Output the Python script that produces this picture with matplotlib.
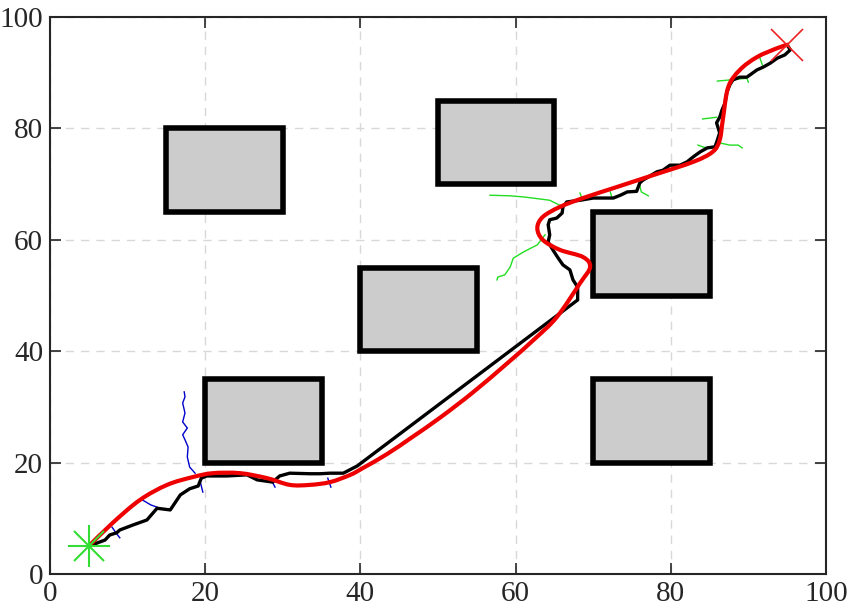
import matplotlib
matplotlib.use("Agg")
import matplotlib.pyplot as plt
import numpy as np
from matplotlib.patches import Rectangle, PathPatch
from matplotlib.path import Path

plt.rcParams['font.family'] = ['Liberation Serif', 'DejaVu Serif']

# Obstacles: (x, y, width, height)
obstacles = [
    (15, 65, 15, 15),
    (20, 20, 15, 15),
    (40, 40, 15, 15),
    (50, 70, 15, 15),
    (70, 50, 15, 15),
    (70, 20, 15, 15),
]

start = (5, 5)
goal = (95, 95)

# Smoothed path (red)
smooth_x = [5.0, 8.1, 11.6, 15.1, 18.4, 21.0, 24.5, 28.0, 30.9, 33.5, 36.1, 38.7, 40.3, 43.4,
            46.6, 50.3, 54.5, 58.9, 62.3, 65.3, 68.3, 69.6, 68.7, 65.7, 63.5, 62.8, 63.5, 65.7, 68.7,
            73.1, 77.7, 82.9, 85.4, 86.3, 86.7, 87.4, 88.9, 91.1, 93.7, 95.0]
smooth_y = [5.0, 9.2, 13.3, 16.0, 17.4, 18.1, 18.1, 17.2, 16.0, 16.0, 16.5, 17.8, 19.0, 21.5,
            24.5, 28.1, 32.6, 37.8, 42.0, 46.1, 52.2, 55.1, 56.9, 58.2, 60.0, 62.1, 64.1, 65.9, 67.5,
            69.5, 71.6, 74.0, 75.8, 77.9, 81.5, 87.4, 90.5, 92.8, 94.4, 95.0]

# Raw path (black)
path_x = [5.0, 7.1, 7.7, 8.6, 9.0, 10.7, 12.5, 13.8, 15.5, 16.8, 18.0, 19.1, 19.5, 20.2, 22.8,
          25.4, 26.7, 28.7, 29.6, 30.9, 33.5, 34.8, 36.1, 37.8, 39.6, 68.0, 68.0, 67.4, 67.0,
          66.1, 65.5, 64.8, 64.2, 64.4, 64.2, 64.4, 65.3, 66.0, 66.1, 66.6, 68.3, 70.0, 70.9,
          72.6, 73.5, 74.4, 75.6, 76.0, 76.4, 78.2, 79.0, 79.9, 81.2, 82.1, 82.9, 83.8, 84.7,
          85.7, 86.0, 86.3, 85.9, 86.3, 86.6, 87.0, 87.2, 87.6, 88.0, 88.9, 89.8, 91.1, 91.9,
          92.8, 93.7, 94.7, 95.4, 95.0]
path_y = [5.0, 6.1, 7.0, 7.4, 7.9, 8.8, 9.7, 11.8, 11.5, 14.2, 15.3, 15.8, 17.2, 17.6, 17.6,
          17.8, 16.9, 16.5, 17.6, 18.1, 18.0, 18.0, 18.1, 18.1, 19.4, 49.2, 51.5, 52.8, 54.6,
          55.5, 56.7, 58.2, 59.6, 60.9, 62.7, 63.6, 63.9, 64.8, 65.9, 66.8, 67.1, 67.5, 67.5,
          67.5, 68.0, 68.6, 68.7, 70.2, 70.7, 72.2, 72.5, 73.4, 73.4, 74.0, 74.9, 75.8, 76.5,
          76.7, 77.9, 79.2, 81.0, 82.0, 83.3, 84.6, 86.4, 87.8, 88.7, 89.2, 89.2, 90.5, 91.0,
          91.7, 92.6, 93.2, 94.1, 95.0]

# Tree branches from start (blue)
blue_branches = [
    ([18.7, 18.0, 17.7, 17.8, 17.4, 17.1, 17.7, 17.1, 17.4, 17.1, 17.4, 17.3],
     [18.1, 19.2, 21.0, 22.8, 24.1, 25.0, 26.2, 27.3, 28.9, 30.7, 31.8, 32.7]),
    ([19.3, 19.7], [16.9, 14.7]),
    ([8.0, 8.6, 9.0], [8.4, 7.2, 6.5]),
    ([11.9, 13.0, 13.8], [13.3, 12.4, 12.0]),
    ([28.4, 29.0], [17.2, 15.6]),
    ([35.8, 36.2], [17.2, 15.6]),
]

# Tree branches from goal (green)
green_branches = [
    ([56.7, 59.3, 61.0, 62.2, 64.4, 65.7], [68.0, 67.9, 67.7, 67.5, 67.1, 66.2]),
    ([63.8, 62.8, 61.0, 59.7, 59.3, 58.6, 57.7, 57.6], [60.9, 59.1, 57.8, 56.7, 55.1, 53.7, 53.3, 52.8]),
    ([68.3, 68.6], [68.4, 67.3]),
    ([72.2, 72.4], [68.6, 67.7]),
    ([76.0, 76.2, 77.1], [69.8, 68.6, 67.9]),
    ([86.3, 87.6, 88.7, 89.2], [77.4, 77.0, 77.0, 76.5]),
    ([83.5, 84.3, 85.1], [77.0, 76.6, 76.5]),
    ([84.1, 85.9], [81.7, 82.0]),
    ([86.0, 87.6, 89.8, 90.0], [88.5, 88.7, 89.0, 88.3]),
    ([91.5, 91.8], [92.6, 91.4]),
]

ticks = [0, 20, 40, 60, 80, 100]


def smooth_path(xs, ys):
    """Catmull-Rom through the read points, rendered as cubic Bezier segments."""
    p = np.column_stack([xs, ys]).astype(float)
    ext = np.vstack([p[0], p, p[-1]])
    verts = [p[0]]
    codes = [Path.MOVETO]
    for i in range(1, len(ext) - 2):
        p0, p1, p2, p3 = ext[i - 1], ext[i], ext[i + 1], ext[i + 2]
        verts += [p1 + (p2 - p0) / 6.0, p2 - (p3 - p1) / 6.0, p2]
        codes += [Path.CURVE4] * 3
    return Path(verts, codes)


fig = plt.figure(figsize=(8.54, 6.12), dpi=100)
ax = fig.add_axes([0.0585, 0.0621, 0.9087, 0.9101])

ax.grid(True, color='#d8d8d8', linestyle=(0, (6, 5)), linewidth=1.0)
ax.set_axisbelow(True)

for (x, y, w, h) in obstacles:
    ax.add_patch(Rectangle((x, y), w, h, facecolor='#cccccc', edgecolor='black',
                           linewidth=4, zorder=2))

for bx, by in blue_branches:
    ax.plot(bx, by, color='#0000cc', linewidth=1.0, zorder=3)
for gx, gy in green_branches:
    ax.plot(gx, gy, color='#22dd22', linewidth=1.0, zorder=3)

ax.plot(path_x, path_y, color='black', linewidth=2.4, zorder=4, solid_joinstyle='round')
ax.add_patch(PathPatch(smooth_path(smooth_x, smooth_y), facecolor='none',
                       edgecolor='#ee0000', linewidth=3.0, zorder=5, capstyle='round'))

ax.plot(*start, marker='+', markersize=30, markeredgewidth=1.5, color='#33dd33', zorder=6)
ax.plot(*start, marker='x', markersize=22, markeredgewidth=1.5, color='#33dd33', zorder=6)
ax.plot(*goal, marker='x', markersize=23, markeredgewidth=1.2, color='#ee2222', zorder=6)

ax.set_xlim(0, 100)
ax.set_ylim(0, 100)
ax.set_xticks(ticks)
ax.set_yticks(ticks)
ax.tick_params(direction='in', length=8, width=1.2, top=True, right=True,
               labelsize=21, colors='#262626', pad=5)
for s in ax.spines.values():
    s.set_color('#262626')
    s.set_linewidth(1.5)

fig.savefig('out.png', dpi=100)
